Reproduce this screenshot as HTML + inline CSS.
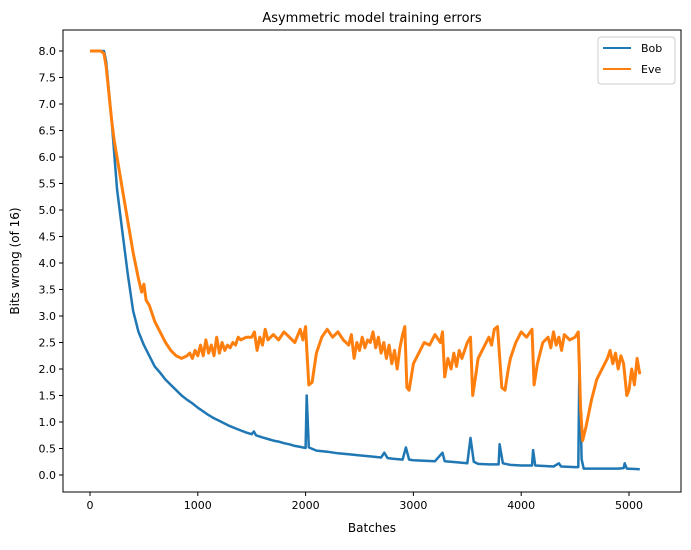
<!DOCTYPE html>
<html><head><meta charset="utf-8"><style>
body{margin:0;background:#fff;font-family:"Liberation Sans","DejaVu Sans",sans-serif}
svg text{font-family:"DejaVu Sans","Liberation Sans",sans-serif;fill:#000}
</style></head><body>
<svg id="c" width="691" height="545"></svg>
<script>
const bobX=[0,50,100,130,150,200,250,300,350,400,450,500,550,600,650,700,750,800,850,900,950,1000,1050,1100,1150,1200,1250,1300,1350,1400,1450,1500,1520,1540,1600,1650,1700,1750,1800,1850,1900,1950,2000,2010,2030,2100,2200,2300,2400,2500,2600,2700,2730,2760,2800,2900,2930,2960,3000,3100,3200,3270,3290,3400,3500,3530,3560,3600,3700,3790,3800,3830,3900,4000,4100,4110,4130,4300,4350,4370,4500,4530,4540,4560,4580,4700,4900,4950,4960,4980,5100];
const bobY=[8,8,8,8,7.8,6.7,5.4,4.6,3.8,3.1,2.7,2.45,2.25,2.05,1.93,1.8,1.7,1.6,1.5,1.42,1.35,1.27,1.2,1.13,1.07,1.02,0.97,0.92,0.88,0.84,0.8,0.77,0.82,0.75,0.71,0.68,0.65,0.63,0.6,0.58,0.55,0.53,0.51,1.5,0.52,0.46,0.44,0.41,0.39,0.37,0.35,0.33,0.42,0.32,0.31,0.29,0.52,0.29,0.28,0.27,0.26,0.42,0.26,0.24,0.22,0.7,0.25,0.21,0.2,0.2,0.58,0.22,0.19,0.18,0.18,0.47,0.18,0.16,0.22,0.16,0.15,0.15,2.15,0.3,0.12,0.12,0.12,0.13,0.22,0.12,0.11];
const eveX=[0,100,130,150,200,225,250,300,350,400,450,480,500,520,550,600,650,700,750,800,850,900,925,950,975,1000,1025,1050,1075,1100,1125,1150,1175,1200,1225,1250,1275,1300,1325,1350,1375,1400,1450,1500,1525,1550,1575,1600,1625,1650,1700,1750,1800,1850,1900,1950,1975,2000,2010,2030,2060,2100,2150,2200,2250,2300,2350,2400,2425,2450,2475,2500,2525,2550,2575,2600,2625,2650,2675,2700,2725,2750,2775,2800,2825,2850,2875,2900,2920,2940,2960,3000,3050,3100,3150,3200,3250,3270,3290,3320,3350,3375,3400,3425,3450,3500,3530,3550,3580,3600,3650,3700,3725,3750,3780,3820,3850,3880,3900,3950,4000,4050,4100,4120,4150,4200,4250,4275,4300,4325,4350,4375,4400,4450,4500,4530,4550,4570,4600,4650,4700,4750,4800,4825,4850,4875,4900,4925,4950,4980,5000,5025,5050,5075,5100];
const eveY=[8,8,7.95,7.7,6.7,6.3,6.0,5.4,4.8,4.2,3.7,3.45,3.6,3.3,3.2,2.9,2.7,2.5,2.35,2.25,2.2,2.25,2.3,2.2,2.35,2.25,2.45,2.25,2.55,2.3,2.45,2.25,2.6,2.3,2.5,2.35,2.45,2.4,2.5,2.45,2.6,2.55,2.6,2.6,2.7,2.35,2.6,2.45,2.75,2.55,2.65,2.55,2.7,2.6,2.5,2.75,2.55,2.8,2.4,1.7,1.75,2.3,2.6,2.75,2.6,2.7,2.55,2.45,2.65,2.2,2.5,2.35,2.6,2.4,2.55,2.5,2.7,2.4,2.6,2.3,2.5,2.2,2.45,2.1,2.35,2.0,2.4,2.65,2.8,1.65,1.6,2.1,2.3,2.5,2.45,2.65,2.5,2.7,1.85,2.2,2.0,2.3,2.05,2.35,2.2,2.5,2.6,1.5,1.9,2.2,2.4,2.6,2.45,2.75,2.8,1.65,1.6,2.0,2.2,2.5,2.7,2.6,2.75,1.7,2.1,2.5,2.6,2.4,2.7,2.45,2.6,2.35,2.65,2.55,2.6,2.7,1.3,0.65,0.9,1.4,1.8,2.0,2.2,2.35,2.1,2.3,2.0,2.25,2.1,1.5,1.6,2.0,1.7,2.2,1.9,2.15];
const xTicks=[0,1000,2000,3000,4000,5000];
const yTicks=[0,0.5,1,1.5,2,2.5,3,3.5,4,4.5,5,5.5,6,6.5,7,7.5,8];
const NS='http://www.w3.org/2000/svg';
const svg=document.getElementById('c');
const L=63,R=681,T=30,B=492;
const sx=v=>90+v*(629-90)/5000;
const sy=v=>475-v*53;
function mk(t,a,p){const e=document.createElementNS(NS,t);for(const k in a)e.setAttribute(k,a[k]);(p||svg).appendChild(e);return e;}
let t=mk('text',{x:372,y:22,'text-anchor':'middle','font-size':13});t.textContent='Asymmetric model training errors';


xTicks.forEach(v=>{const l=mk('line',{x1:sx(v),x2:sx(v),y1:B,y2:B+4,stroke:'#000'});


const tx=mk('text',{x:sx(v),y:B+17,'text-anchor':'middle','font-size':11});tx.textContent=v;

});
yTicks.forEach(v=>{const l=mk('line',{x1:L-4,x2:L,y1:sy(v),y2:sy(v),stroke:'#000'});


const tx=mk('text',{x:L-7,y:sy(v)+4,'text-anchor':'end','font-size':11});tx.textContent=v.toFixed(1);

});
t=mk('text',{x:372,y:532,'text-anchor':'middle','font-size':12});t.textContent='Batches';


t=mk('text',{x:19,y:261,'text-anchor':'middle','font-size':12,transform:'rotate(-90 19 261)'});t.textContent='Bits wrong (of 16)';


function line(xs,ys,c,w,name){const d=xs.map((x,i)=>(i?'L':'M')+sx(x).toFixed(1)+' '+sy(ys[i]).toFixed(1)).join('');
const p=mk('path',{d:d,fill:'none',stroke:c,'stroke-width':w,'stroke-linejoin':'round'});

}
line(bobX,bobY,'#1f77b4',2.5,'bob-line');
line(eveX,eveY,'#ff7f0e',3,'eve-line');
const fr=mk('rect',{x:L,y:T,width:R-L,height:B-T,fill:'none',stroke:'#000','stroke-width':1});


const g=mk('g',{});


mk('rect',{x:598,y:37,width:77,height:47,rx:3,fill:'#fff',stroke:'#ccc'},g);
[['Bob','#1f77b4'],['Eve','#ff7f0e']].forEach((e,i)=>{const y=48+i*21;
mk('line',{x1:603,x2:631,y1:y,y2:y,stroke:e[1],'stroke-width':2},g);
const tx=mk('text',{x:641,y:y+4,'font-size':11},g);tx.textContent=e[0];

});
</script>
</body></html>
